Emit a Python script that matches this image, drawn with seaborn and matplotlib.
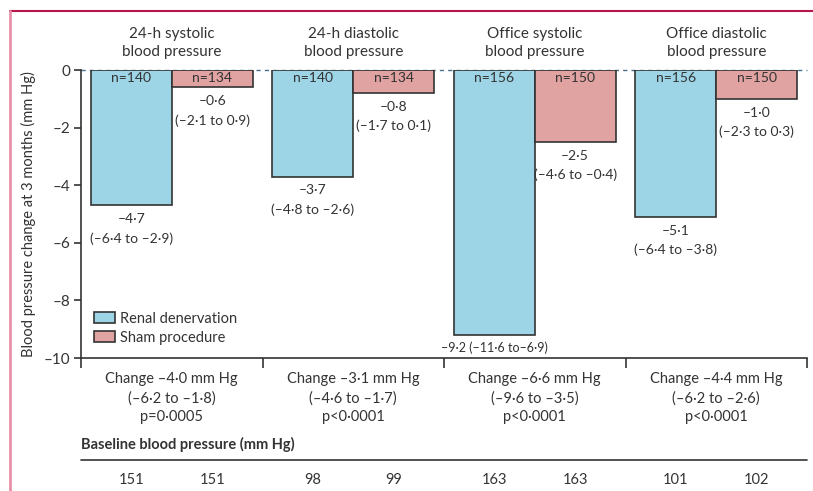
import matplotlib
matplotlib.use('Agg')
import matplotlib.pyplot as plt
import matplotlib.patches as mpatches
import numpy as np
import pandas as pd
import seaborn as sns

measures = ['24-h systolic\nblood pressure', '24-h diastolic\nblood pressure',
            'Office systolic\nblood pressure', 'Office diastolic\nblood pressure']
groups = ['Renal denervation', 'Sham procedure']
renal = [-4.7, -3.7, -9.2, -5.1]
sham = [-0.6, -0.8, -2.5, -1.0]
renal_ci = ['(–6·4 to –2·9)', '(–4·8 to –2·6)', '(–11·6 to–6·9)', '(–6·4 to –3·8)']
sham_ci = ['(–2·1 to 0·9)', '(–1·7 to 0·1)', '(–4·6 to –0·4)', '(–2·3 to 0·3)']
renal_n = [140, 140, 156, 156]
sham_n = [134, 134, 150, 150]
diff_text = ['Change –4·0 mm Hg\n(–6·2 to –1·8)\np=0·0005',
             'Change –3·1 mm Hg\n(–4·6 to –1·7)\np<0·0001',
             'Change –6·6 mm Hg\n(–9·6 to –3·5)\np<0·0001',
             'Change –4·4 mm Hg\n(–6·2 to –2·6)\np<0·0001']
baseline_renal = [151, 98, 163, 101]
baseline_sham = [151, 99, 163, 102]
yticks = [-10, -8, -6, -4, -2, 0]
colors = ['#9dd4e6', '#e0a3a1']

df = pd.DataFrame({
    'measure': measures * 2,
    'group': [groups[0]] * 4 + [groups[1]] * 4,
    'change': renal + sham,
})

sns.set_style('white')
plt.rcParams['font.family'] = ['Lato', 'DejaVu Sans']
plt.rcParams['font.size'] = 10
txt = '#333333'

def fmt(v):
    return ('–' if v < 0 else '') + ('%.1f' % abs(v)).replace('.', '·')

fig = plt.figure(figsize=(8.13, 4.91), dpi=100)
ax = fig.add_axes([81 / 813, 1 - 358 / 491, 726 / 813, 288 / 491])
sns.barplot(data=df, x='measure', y='change', hue='group', palette=colors,
            width=0.89, gap=0, edgecolor='#333333', linewidth=1.2, ax=ax,
            legend=False, saturation=1)
ax.set_ylim(-10, 0)
ax.set_xlim(-0.5, 3.5)
ax.axhline(0, color='#4a6f8a', ls=(0, (3, 3)), lw=1, zorder=0.5, clip_on=False)

for spine in ['top', 'right']:
    ax.spines[spine].set_visible(False)
for spine in ['left', 'bottom']:
    ax.spines[spine].set_color('#333333')
    ax.spines[spine].set_linewidth(1.2)

ax.set_xticks([-0.5, 0.5, 1.5, 2.5, 3.5])
ax.set_xticklabels([])
ax.tick_params(axis='x', direction='out', length=7, width=1.2, color='#333333', bottom=True)
ax.set_yticks(yticks)
ax.set_yticklabels([('–%d' % -v) if v < 0 else '0' for v in yticks], fontsize=11, color=txt)
ax.tick_params(axis='y', direction='out', length=5, width=1.2, color='#333333', left=True, pad=3)
ax.set_xlabel('')
ax.set_ylabel('Blood pressure change at 3 months (mm Hg)', fontsize=10.5, color=txt)
ax.yaxis.set_label_coords(-0.062, 0.50)

ns = [renal_n, sham_n]
vals = [renal, sham]
cis = [renal_ci, sham_ci]
bases = [baseline_renal, baseline_sham]
for k, cont in enumerate(ax.containers):
    for i, p in enumerate(cont.patches):
        xc = p.get_x() + p.get_width() / 2
        ax.text(xc, -0.28, 'n=%d' % ns[k][i], ha='center', va='center', fontsize=10, color=txt)
        v = vals[k][i]
        if v < -9:
            ax.text(xc, v - 0.45, fmt(v) + ' ' + cis[k][i], ha='center', va='center',
                    fontsize=9, color=txt)
        else:
            ax.text(xc, v - 0.48, fmt(v), ha='center', va='center', fontsize=10, color=txt)
            ax.text(xc, v - 1.15, cis[k][i], ha='center', va='center', fontsize=10, color=txt)
        ax.text(xc, -14.25, str(bases[k][i]), ha='center', va='center', fontsize=10.5,
                color=txt, clip_on=False)

for i, m in enumerate(measures):
    ax.text(i, 0.94, m, ha='center', va='center', fontsize=11, color=txt,
            linespacing=1.4, clip_on=False)
    ax.text(i, -11.39, diff_text[i], ha='center', va='center', fontsize=10.5, color=txt,
            linespacing=1.45, clip_on=False)

ax.text(-0.5, -13.0, 'Baseline blood pressure (mm Hg)', ha='left', va='center',
        fontsize=10.5, fontweight='bold', color=txt, clip_on=False)
ax.plot([-0.5, 3.5], [-13.55, -13.55], color='#333333', lw=1.2, clip_on=False)

handles = [mpatches.Patch(facecolor=c, edgecolor='#333333', lw=1.2, label=g)
           for c, g in zip(colors, groups)]
ax.legend(handles=handles, loc='lower left', bbox_to_anchor=(0.0, 0.0), frameon=False,
          fontsize=10.5, handlelength=1.4, handleheight=0.8, handletextpad=0.4,
          labelspacing=0.35, borderaxespad=0.5, labelcolor=txt)

fig.add_artist(plt.Line2D([9.5 / 813, 1], [1 - 11 / 491, 1 - 11 / 491], color='#b5174a', lw=1.5))
fig.add_artist(plt.Line2D([9.5 / 813, 9.5 / 813], [0, 1 - 11 / 491], color='#e890a8', lw=2))

fig.savefig('out.png', dpi=100)
